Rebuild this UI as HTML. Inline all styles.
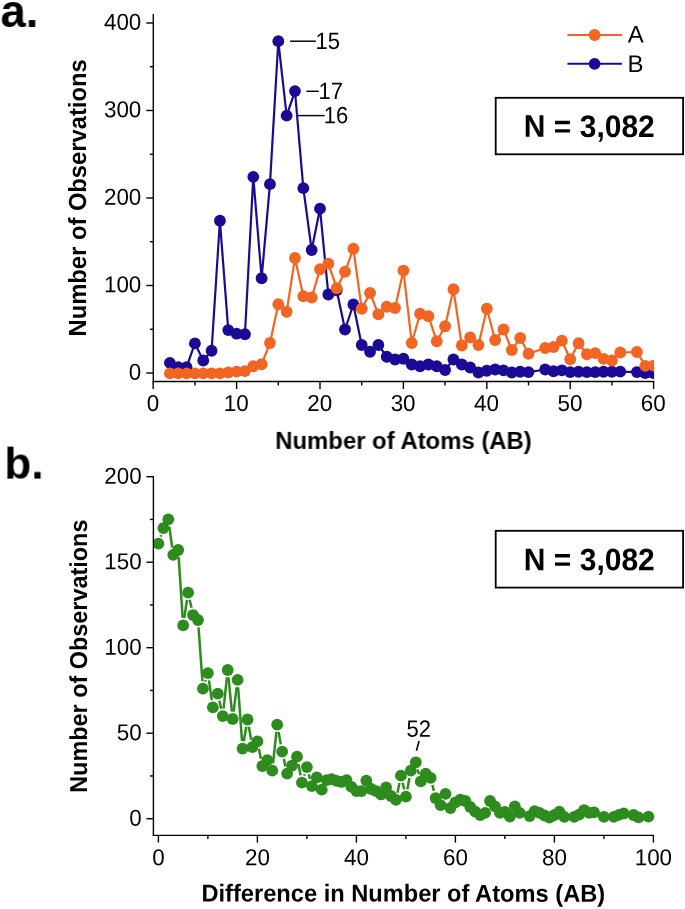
<!DOCTYPE html>
<html lang="en">
<head>
<meta charset="utf-8">
<title>Number of Observations vs Number of Atoms</title>
<style>
html,body{margin:0;padding:0;background:#fff;}
body{width:685px;height:909px;overflow:hidden;font-family:"Liberation Sans",sans-serif;}
svg{display:block;}
svg text{font-family:"Liberation Sans",sans-serif;fill:#000000;}
</style>
</head>
<body>
<svg width="685" height="909" viewBox="0 0 685 909">
<rect x="0" y="0" width="685" height="909" fill="#ffffff"/>
<g style="opacity:0.999">
<line x1="153.3" y1="14" x2="153.3" y2="382.2" stroke="#000000" stroke-width="1.4" stroke-linecap="butt"/>
<line x1="152.6" y1="381.5" x2="654.3" y2="381.5" stroke="#000000" stroke-width="1.4" stroke-linecap="butt"/>
<line x1="146.3" y1="373" x2="153.3" y2="373" stroke="#000000" stroke-width="1.4" stroke-linecap="butt"/>
<line x1="149.8" y1="329.25" x2="153.3" y2="329.25" stroke="#000000" stroke-width="1.4" stroke-linecap="butt"/>
<line x1="146.3" y1="285.5" x2="153.3" y2="285.5" stroke="#000000" stroke-width="1.4" stroke-linecap="butt"/>
<line x1="149.8" y1="241.75" x2="153.3" y2="241.75" stroke="#000000" stroke-width="1.4" stroke-linecap="butt"/>
<line x1="146.3" y1="198" x2="153.3" y2="198" stroke="#000000" stroke-width="1.4" stroke-linecap="butt"/>
<line x1="149.8" y1="154.25" x2="153.3" y2="154.25" stroke="#000000" stroke-width="1.4" stroke-linecap="butt"/>
<line x1="146.3" y1="110.5" x2="153.3" y2="110.5" stroke="#000000" stroke-width="1.4" stroke-linecap="butt"/>
<line x1="149.8" y1="66.75" x2="153.3" y2="66.75" stroke="#000000" stroke-width="1.4" stroke-linecap="butt"/>
<line x1="146.3" y1="23" x2="153.3" y2="23" stroke="#000000" stroke-width="1.4" stroke-linecap="butt"/>
<text transform="translate(141.3,379.8) rotate(0.03) scale(1,1.03)" font-size="22.4" text-anchor="end" font-weight="normal">0</text>
<text transform="translate(141.3,292.3) rotate(0.03) scale(1,1.03)" font-size="22.4" text-anchor="end" font-weight="normal">100</text>
<text transform="translate(141.3,204.8) rotate(0.03) scale(1,1.03)" font-size="22.4" text-anchor="end" font-weight="normal">200</text>
<text transform="translate(141.3,117.3) rotate(0.03) scale(1,1.03)" font-size="22.4" text-anchor="end" font-weight="normal">300</text>
<text transform="translate(141.3,29.8) rotate(0.03) scale(1,1.03)" font-size="22.4" text-anchor="end" font-weight="normal">400</text>
<line x1="153.2" y1="381.5" x2="153.2" y2="389" stroke="#000000" stroke-width="1.4" stroke-linecap="butt"/>
<line x1="194.9" y1="381.5" x2="194.9" y2="385.5" stroke="#000000" stroke-width="1.4" stroke-linecap="butt"/>
<line x1="236.6" y1="381.5" x2="236.6" y2="389" stroke="#000000" stroke-width="1.4" stroke-linecap="butt"/>
<line x1="278.3" y1="381.5" x2="278.3" y2="385.5" stroke="#000000" stroke-width="1.4" stroke-linecap="butt"/>
<line x1="320" y1="381.5" x2="320" y2="389" stroke="#000000" stroke-width="1.4" stroke-linecap="butt"/>
<line x1="361.7" y1="381.5" x2="361.7" y2="385.5" stroke="#000000" stroke-width="1.4" stroke-linecap="butt"/>
<line x1="403.4" y1="381.5" x2="403.4" y2="389" stroke="#000000" stroke-width="1.4" stroke-linecap="butt"/>
<line x1="445.1" y1="381.5" x2="445.1" y2="385.5" stroke="#000000" stroke-width="1.4" stroke-linecap="butt"/>
<line x1="486.8" y1="381.5" x2="486.8" y2="389" stroke="#000000" stroke-width="1.4" stroke-linecap="butt"/>
<line x1="528.5" y1="381.5" x2="528.5" y2="385.5" stroke="#000000" stroke-width="1.4" stroke-linecap="butt"/>
<line x1="570.2" y1="381.5" x2="570.2" y2="389" stroke="#000000" stroke-width="1.4" stroke-linecap="butt"/>
<line x1="611.9" y1="381.5" x2="611.9" y2="385.5" stroke="#000000" stroke-width="1.4" stroke-linecap="butt"/>
<line x1="653.6" y1="381.5" x2="653.6" y2="389" stroke="#000000" stroke-width="1.4" stroke-linecap="butt"/>
<text transform="translate(152.9,410.9) rotate(0.03) scale(1,1.03)" font-size="22.4" text-anchor="middle" font-weight="normal">0</text>
<text transform="translate(236.3,410.9) rotate(0.03) scale(1,1.03)" font-size="22.4" text-anchor="middle" font-weight="normal">10</text>
<text transform="translate(319.7,410.9) rotate(0.03) scale(1,1.03)" font-size="22.4" text-anchor="middle" font-weight="normal">20</text>
<text transform="translate(403.1,410.9) rotate(0.03) scale(1,1.03)" font-size="22.4" text-anchor="middle" font-weight="normal">30</text>
<text transform="translate(486.5,410.9) rotate(0.03) scale(1,1.03)" font-size="22.4" text-anchor="middle" font-weight="normal">40</text>
<text transform="translate(569.9,410.9) rotate(0.03) scale(1,1.03)" font-size="22.4" text-anchor="middle" font-weight="normal">50</text>
<text transform="translate(653.3,410.9) rotate(0.03) scale(1,1.03)" font-size="22.4" text-anchor="middle" font-weight="normal">60</text>
<clipPath id="ca"><rect x="153.3" y="0" width="500.8" height="381.5"/></clipPath>
<g clip-path="url(#ca)">
<polyline points="169.88,362.85 178.22,367.23 186.56,367.23 194.9,343.43 203.24,360.49 211.58,350.77 219.92,220.75 228.26,330.12 236.6,333.71 244.94,334.24 253.28,176.83 261.62,278.24 269.96,184.17 278.3,41.2 286.64,115.57 294.98,91.07 303.32,188.2 311.66,249.98 320,208.67 328.34,294.51 336.68,290.31 345.02,329.51 353.36,304.49 361.7,345 370.04,351.74 378.38,345 386.72,356.73 395.06,359.52 403.4,358.74 411.74,364.51 420.08,366.26 428.42,364.51 436.76,366.26 445.1,370.02 453.44,359.52 461.78,364.51 470.12,367.49 478.46,372.48 486.8,370.73 495.14,369.5 503.48,370.38 511.82,372.48 520.16,371.77 528.5,372.12 545.18,369.5 553.52,371.25 561.86,370.38 570.2,372.12 578.54,371.77 586.88,372.12 595.22,372.12 603.56,371.77 611.9,371.77 620.24,371.6 636.92,372.04 645.26,373 653.6,373" fill="none" stroke="#1A0A96" stroke-width="2.2" stroke-linejoin="round"/>
<circle cx="169.88" cy="362.85" r="5.9" fill="#1A0A96"/>
<circle cx="178.22" cy="367.23" r="5.9" fill="#1A0A96"/>
<circle cx="186.56" cy="367.23" r="5.9" fill="#1A0A96"/>
<circle cx="194.9" cy="343.43" r="5.9" fill="#1A0A96"/>
<circle cx="203.24" cy="360.49" r="5.9" fill="#1A0A96"/>
<circle cx="211.58" cy="350.77" r="5.9" fill="#1A0A96"/>
<circle cx="219.92" cy="220.75" r="5.9" fill="#1A0A96"/>
<circle cx="228.26" cy="330.12" r="5.9" fill="#1A0A96"/>
<circle cx="236.6" cy="333.71" r="5.9" fill="#1A0A96"/>
<circle cx="244.94" cy="334.24" r="5.9" fill="#1A0A96"/>
<circle cx="253.28" cy="176.83" r="5.9" fill="#1A0A96"/>
<circle cx="261.62" cy="278.24" r="5.9" fill="#1A0A96"/>
<circle cx="269.96" cy="184.17" r="5.9" fill="#1A0A96"/>
<circle cx="278.3" cy="41.2" r="5.9" fill="#1A0A96"/>
<circle cx="286.64" cy="115.57" r="5.9" fill="#1A0A96"/>
<circle cx="294.98" cy="91.07" r="5.9" fill="#1A0A96"/>
<circle cx="303.32" cy="188.2" r="5.9" fill="#1A0A96"/>
<circle cx="311.66" cy="249.98" r="5.9" fill="#1A0A96"/>
<circle cx="320" cy="208.67" r="5.9" fill="#1A0A96"/>
<circle cx="328.34" cy="294.51" r="5.9" fill="#1A0A96"/>
<circle cx="336.68" cy="290.31" r="5.9" fill="#1A0A96"/>
<circle cx="345.02" cy="329.51" r="5.9" fill="#1A0A96"/>
<circle cx="353.36" cy="304.49" r="5.9" fill="#1A0A96"/>
<circle cx="361.7" cy="345" r="5.9" fill="#1A0A96"/>
<circle cx="370.04" cy="351.74" r="5.9" fill="#1A0A96"/>
<circle cx="378.38" cy="345" r="5.9" fill="#1A0A96"/>
<circle cx="386.72" cy="356.73" r="5.9" fill="#1A0A96"/>
<circle cx="395.06" cy="359.52" r="5.9" fill="#1A0A96"/>
<circle cx="403.4" cy="358.74" r="5.9" fill="#1A0A96"/>
<circle cx="411.74" cy="364.51" r="5.9" fill="#1A0A96"/>
<circle cx="420.08" cy="366.26" r="5.9" fill="#1A0A96"/>
<circle cx="428.42" cy="364.51" r="5.9" fill="#1A0A96"/>
<circle cx="436.76" cy="366.26" r="5.9" fill="#1A0A96"/>
<circle cx="445.1" cy="370.02" r="5.9" fill="#1A0A96"/>
<circle cx="453.44" cy="359.52" r="5.9" fill="#1A0A96"/>
<circle cx="461.78" cy="364.51" r="5.9" fill="#1A0A96"/>
<circle cx="470.12" cy="367.49" r="5.9" fill="#1A0A96"/>
<circle cx="478.46" cy="372.48" r="5.9" fill="#1A0A96"/>
<circle cx="486.8" cy="370.73" r="5.9" fill="#1A0A96"/>
<circle cx="495.14" cy="369.5" r="5.9" fill="#1A0A96"/>
<circle cx="503.48" cy="370.38" r="5.9" fill="#1A0A96"/>
<circle cx="511.82" cy="372.48" r="5.9" fill="#1A0A96"/>
<circle cx="520.16" cy="371.77" r="5.9" fill="#1A0A96"/>
<circle cx="528.5" cy="372.12" r="5.9" fill="#1A0A96"/>
<circle cx="545.18" cy="369.5" r="5.9" fill="#1A0A96"/>
<circle cx="553.52" cy="371.25" r="5.9" fill="#1A0A96"/>
<circle cx="561.86" cy="370.38" r="5.9" fill="#1A0A96"/>
<circle cx="570.2" cy="372.12" r="5.9" fill="#1A0A96"/>
<circle cx="578.54" cy="371.77" r="5.9" fill="#1A0A96"/>
<circle cx="586.88" cy="372.12" r="5.9" fill="#1A0A96"/>
<circle cx="595.22" cy="372.12" r="5.9" fill="#1A0A96"/>
<circle cx="603.56" cy="371.77" r="5.9" fill="#1A0A96"/>
<circle cx="611.9" cy="371.77" r="5.9" fill="#1A0A96"/>
<circle cx="620.24" cy="371.6" r="5.9" fill="#1A0A96"/>
<circle cx="636.92" cy="372.04" r="5.9" fill="#1A0A96"/>
<circle cx="645.26" cy="373" r="5.9" fill="#1A0A96"/>
<circle cx="653.6" cy="373" r="5.9" fill="#1A0A96"/>
<polyline points="169.88,373.44 178.22,373.44 186.56,373.44 194.9,373.44 203.24,373.44 211.58,373.44 219.92,373.35 228.26,372.48 236.6,371.6 244.94,371.07 253.28,366.26 261.62,364.25 269.96,342.99 278.3,304.23 286.64,311.75 294.98,258.02 303.32,296.26 311.66,297.49 320,269.23 328.34,263.71 336.68,288.21 345.02,271.76 353.36,248.75 361.7,308.77 370.04,293.02 378.38,314.29 386.72,306.76 395.06,307.99 403.4,270.54 411.74,342.99 420.08,313.76 428.42,316.21 436.76,341.24 445.1,326.27 453.44,289.26 461.78,345.52 470.12,337.48 478.46,345 486.8,308.77 495.14,340.01 503.48,329.51 511.82,349.99 520.16,338 528.5,353.75 545.18,347.98 553.52,347.01 561.86,340.71 570.2,359.26 578.54,343.25 586.88,354.27 595.22,353.14 603.56,358.82 611.9,360.49 620.24,352.52 636.92,352 645.26,365.82 653.6,365.56" fill="none" stroke="#F26522" stroke-width="2.2" stroke-linejoin="round"/>
<circle cx="169.88" cy="373.44" r="5.9" fill="#F26522"/>
<circle cx="178.22" cy="373.44" r="5.9" fill="#F26522"/>
<circle cx="186.56" cy="373.44" r="5.9" fill="#F26522"/>
<circle cx="194.9" cy="373.44" r="5.9" fill="#F26522"/>
<circle cx="203.24" cy="373.44" r="5.9" fill="#F26522"/>
<circle cx="211.58" cy="373.44" r="5.9" fill="#F26522"/>
<circle cx="219.92" cy="373.35" r="5.9" fill="#F26522"/>
<circle cx="228.26" cy="372.48" r="5.9" fill="#F26522"/>
<circle cx="236.6" cy="371.6" r="5.9" fill="#F26522"/>
<circle cx="244.94" cy="371.07" r="5.9" fill="#F26522"/>
<circle cx="253.28" cy="366.26" r="5.9" fill="#F26522"/>
<circle cx="261.62" cy="364.25" r="5.9" fill="#F26522"/>
<circle cx="269.96" cy="342.99" r="5.9" fill="#F26522"/>
<circle cx="278.3" cy="304.23" r="5.9" fill="#F26522"/>
<circle cx="286.64" cy="311.75" r="5.9" fill="#F26522"/>
<circle cx="294.98" cy="258.02" r="5.9" fill="#F26522"/>
<circle cx="303.32" cy="296.26" r="5.9" fill="#F26522"/>
<circle cx="311.66" cy="297.49" r="5.9" fill="#F26522"/>
<circle cx="320" cy="269.23" r="5.9" fill="#F26522"/>
<circle cx="328.34" cy="263.71" r="5.9" fill="#F26522"/>
<circle cx="336.68" cy="288.21" r="5.9" fill="#F26522"/>
<circle cx="345.02" cy="271.76" r="5.9" fill="#F26522"/>
<circle cx="353.36" cy="248.75" r="5.9" fill="#F26522"/>
<circle cx="361.7" cy="308.77" r="5.9" fill="#F26522"/>
<circle cx="370.04" cy="293.02" r="5.9" fill="#F26522"/>
<circle cx="378.38" cy="314.29" r="5.9" fill="#F26522"/>
<circle cx="386.72" cy="306.76" r="5.9" fill="#F26522"/>
<circle cx="395.06" cy="307.99" r="5.9" fill="#F26522"/>
<circle cx="403.4" cy="270.54" r="5.9" fill="#F26522"/>
<circle cx="411.74" cy="342.99" r="5.9" fill="#F26522"/>
<circle cx="420.08" cy="313.76" r="5.9" fill="#F26522"/>
<circle cx="428.42" cy="316.21" r="5.9" fill="#F26522"/>
<circle cx="436.76" cy="341.24" r="5.9" fill="#F26522"/>
<circle cx="445.1" cy="326.27" r="5.9" fill="#F26522"/>
<circle cx="453.44" cy="289.26" r="5.9" fill="#F26522"/>
<circle cx="461.78" cy="345.52" r="5.9" fill="#F26522"/>
<circle cx="470.12" cy="337.48" r="5.9" fill="#F26522"/>
<circle cx="478.46" cy="345" r="5.9" fill="#F26522"/>
<circle cx="486.8" cy="308.77" r="5.9" fill="#F26522"/>
<circle cx="495.14" cy="340.01" r="5.9" fill="#F26522"/>
<circle cx="503.48" cy="329.51" r="5.9" fill="#F26522"/>
<circle cx="511.82" cy="349.99" r="5.9" fill="#F26522"/>
<circle cx="520.16" cy="338" r="5.9" fill="#F26522"/>
<circle cx="528.5" cy="353.75" r="5.9" fill="#F26522"/>
<circle cx="545.18" cy="347.98" r="5.9" fill="#F26522"/>
<circle cx="553.52" cy="347.01" r="5.9" fill="#F26522"/>
<circle cx="561.86" cy="340.71" r="5.9" fill="#F26522"/>
<circle cx="570.2" cy="359.26" r="5.9" fill="#F26522"/>
<circle cx="578.54" cy="343.25" r="5.9" fill="#F26522"/>
<circle cx="586.88" cy="354.27" r="5.9" fill="#F26522"/>
<circle cx="595.22" cy="353.14" r="5.9" fill="#F26522"/>
<circle cx="603.56" cy="358.82" r="5.9" fill="#F26522"/>
<circle cx="611.9" cy="360.49" r="5.9" fill="#F26522"/>
<circle cx="620.24" cy="352.52" r="5.9" fill="#F26522"/>
<circle cx="636.92" cy="352" r="5.9" fill="#F26522"/>
<circle cx="645.26" cy="365.82" r="5.9" fill="#F26522"/>
<circle cx="653.6" cy="365.56" r="5.9" fill="#F26522"/>
</g>
<line x1="290.1" y1="41.2" x2="315.9" y2="41.2" stroke="#000000" stroke-width="1.45" stroke-linecap="butt"/>
<text transform="translate(315.6,49) rotate(0.03) scale(1,1.07)" font-size="22" text-anchor="start" font-weight="normal">15</text>
<line x1="306.4" y1="91.3" x2="318.8" y2="91.3" stroke="#000000" stroke-width="1.45" stroke-linecap="butt"/>
<text transform="translate(318.4,99.1) rotate(0.03) scale(1,1.07)" font-size="22" text-anchor="start" font-weight="normal">17</text>
<line x1="297.7" y1="115.6" x2="324.6" y2="115.6" stroke="#000000" stroke-width="1.45" stroke-linecap="butt"/>
<text transform="translate(323.8,123.2) rotate(0.03) scale(1,1.07)" font-size="22" text-anchor="start" font-weight="normal">16</text>
<line x1="567.4" y1="35" x2="622" y2="35" stroke="#F26522" stroke-width="2" stroke-linecap="butt"/>
<circle cx="594.6" cy="35" r="5.9" fill="#F26522"/>
<text transform="translate(627.8,42.6) rotate(0.03)" font-size="24" text-anchor="start" font-weight="normal">A</text>
<line x1="567.4" y1="63.8" x2="622" y2="63.8" stroke="#1A0A96" stroke-width="2" stroke-linecap="butt"/>
<circle cx="594.6" cy="63.8" r="5.9" fill="#1A0A96"/>
<text transform="translate(627.6,71.9) rotate(0.03)" font-size="24" text-anchor="start" font-weight="normal">B</text>
<rect x="495.7" y="97.8" width="187.4" height="56.5" fill="#fff" stroke="#000000" stroke-width="1.8"/>
<text transform="translate(589.3,136.9) rotate(0.03) scale(1,1.038)" font-size="30" text-anchor="middle" font-weight="bold">N = 3,082</text>
<text transform="translate(403.5,448.6) rotate(0.03) scale(1,1.03)" font-size="23.9" text-anchor="middle" font-weight="bold">Number of Atoms (AB)</text>
<text transform="translate(86,197.9) rotate(-89.97) scale(1,1.045)" font-size="23.75" text-anchor="middle" font-weight="bold">Number of Observations</text>
<text transform="translate(0.5,27) rotate(0.03)" font-size="45.5" text-anchor="start" font-weight="bold">a.</text>
<line x1="146.4" y1="818.7" x2="153.4" y2="818.7" stroke="#000000" stroke-width="1.4" stroke-linecap="butt"/>
<line x1="149.9" y1="775.95" x2="153.4" y2="775.95" stroke="#000000" stroke-width="1.4" stroke-linecap="butt"/>
<line x1="146.4" y1="733.2" x2="153.4" y2="733.2" stroke="#000000" stroke-width="1.4" stroke-linecap="butt"/>
<line x1="149.9" y1="690.45" x2="153.4" y2="690.45" stroke="#000000" stroke-width="1.4" stroke-linecap="butt"/>
<line x1="146.4" y1="647.7" x2="153.4" y2="647.7" stroke="#000000" stroke-width="1.4" stroke-linecap="butt"/>
<line x1="149.9" y1="604.95" x2="153.4" y2="604.95" stroke="#000000" stroke-width="1.4" stroke-linecap="butt"/>
<line x1="146.4" y1="562.2" x2="153.4" y2="562.2" stroke="#000000" stroke-width="1.4" stroke-linecap="butt"/>
<line x1="149.9" y1="519.45" x2="153.4" y2="519.45" stroke="#000000" stroke-width="1.4" stroke-linecap="butt"/>
<line x1="146.4" y1="476.7" x2="153.4" y2="476.7" stroke="#000000" stroke-width="1.4" stroke-linecap="butt"/>
<text transform="translate(141.7,825.7) rotate(0.03) scale(1,1.03)" font-size="22.4" text-anchor="end" font-weight="normal">0</text>
<text transform="translate(141.7,740.2) rotate(0.03) scale(1,1.03)" font-size="22.4" text-anchor="end" font-weight="normal">50</text>
<text transform="translate(141.7,654.7) rotate(0.03) scale(1,1.03)" font-size="22.4" text-anchor="end" font-weight="normal">100</text>
<text transform="translate(141.7,569.2) rotate(0.03) scale(1,1.03)" font-size="22.4" text-anchor="end" font-weight="normal">150</text>
<text transform="translate(141.7,483.7) rotate(0.03) scale(1,1.03)" font-size="22.4" text-anchor="end" font-weight="normal">200</text>
<line x1="158.4" y1="835.4" x2="158.4" y2="842.6" stroke="#000000" stroke-width="1.4" stroke-linecap="butt"/>
<line x1="207.9" y1="835.4" x2="207.9" y2="838.9" stroke="#000000" stroke-width="1.4" stroke-linecap="butt"/>
<line x1="257.4" y1="835.4" x2="257.4" y2="842.6" stroke="#000000" stroke-width="1.4" stroke-linecap="butt"/>
<line x1="306.9" y1="835.4" x2="306.9" y2="838.9" stroke="#000000" stroke-width="1.4" stroke-linecap="butt"/>
<line x1="356.4" y1="835.4" x2="356.4" y2="842.6" stroke="#000000" stroke-width="1.4" stroke-linecap="butt"/>
<line x1="405.9" y1="835.4" x2="405.9" y2="838.9" stroke="#000000" stroke-width="1.4" stroke-linecap="butt"/>
<line x1="455.4" y1="835.4" x2="455.4" y2="842.6" stroke="#000000" stroke-width="1.4" stroke-linecap="butt"/>
<line x1="504.9" y1="835.4" x2="504.9" y2="838.9" stroke="#000000" stroke-width="1.4" stroke-linecap="butt"/>
<line x1="554.4" y1="835.4" x2="554.4" y2="842.6" stroke="#000000" stroke-width="1.4" stroke-linecap="butt"/>
<line x1="603.9" y1="835.4" x2="603.9" y2="838.9" stroke="#000000" stroke-width="1.4" stroke-linecap="butt"/>
<line x1="653.4" y1="835.4" x2="653.4" y2="842.6" stroke="#000000" stroke-width="1.4" stroke-linecap="butt"/>
<text transform="translate(158.4,865.2) rotate(0.03) scale(1,1.03)" font-size="22.4" text-anchor="middle" font-weight="normal">0</text>
<text transform="translate(257.4,865.2) rotate(0.03) scale(1,1.03)" font-size="22.4" text-anchor="middle" font-weight="normal">20</text>
<text transform="translate(356.4,865.2) rotate(0.03) scale(1,1.03)" font-size="22.4" text-anchor="middle" font-weight="normal">40</text>
<text transform="translate(455.4,865.2) rotate(0.03) scale(1,1.03)" font-size="22.4" text-anchor="middle" font-weight="normal">60</text>
<text transform="translate(554.4,865.2) rotate(0.03) scale(1,1.03)" font-size="22.4" text-anchor="middle" font-weight="normal">80</text>
<text transform="translate(653.4,865.2) rotate(0.03) scale(1,1.03)" font-size="22.4" text-anchor="middle" font-weight="normal">100</text>
<clipPath id="cb"><rect x="153.4" y="440" width="540" height="395.4"/></clipPath>
<g clip-path="url(#cb)">
<line x1="160.64" y1="536.6" x2="161.11" y2="535.13" stroke="#2E8B1E" stroke-width="2.5" stroke-linecap="butt"/>
<line x1="169.32" y1="526.67" x2="172.23" y2="547.62" stroke="#2E8B1E" stroke-width="2.5" stroke-linecap="butt"/>
<line x1="178.69" y1="557.37" x2="182.66" y2="617.93" stroke="#2E8B1E" stroke-width="2.5" stroke-linecap="butt"/>
<line x1="184.26" y1="618" x2="186.99" y2="599.93" stroke="#2E8B1E" stroke-width="2.5" stroke-linecap="butt"/>
<line x1="189.69" y1="599.84" x2="191.46" y2="607.82" stroke="#2E8B1E" stroke-width="2.5" stroke-linecap="butt"/>
<line x1="198.53" y1="627.39" x2="202.42" y2="681.28" stroke="#2E8B1E" stroke-width="2.5" stroke-linecap="butt"/>
<line x1="205.19" y1="681.61" x2="205.66" y2="680.13" stroke="#2E8B1E" stroke-width="2.5" stroke-linecap="butt"/>
<line x1="208.96" y1="680.4" x2="211.79" y2="700" stroke="#2E8B1E" stroke-width="2.5" stroke-linecap="butt"/>
<line x1="219.39" y1="700.85" x2="221.16" y2="708.83" stroke="#2E8B1E" stroke-width="2.5" stroke-linecap="butt"/>
<line x1="223.54" y1="708.69" x2="226.91" y2="677.36" stroke="#2E8B1E" stroke-width="2.5" stroke-linecap="butt"/>
<line x1="228.44" y1="677.36" x2="231.91" y2="711.6" stroke="#2E8B1E" stroke-width="2.5" stroke-linecap="butt"/>
<line x1="233.58" y1="711.62" x2="236.67" y2="687.27" stroke="#2E8B1E" stroke-width="2.5" stroke-linecap="butt"/>
<line x1="238.13" y1="687.31" x2="242.02" y2="741.2" stroke="#2E8B1E" stroke-width="2.5" stroke-linecap="butt"/>
<line x1="243.79" y1="741.28" x2="246.26" y2="726.77" stroke="#2E8B1E" stroke-width="2.5" stroke-linecap="butt"/>
<line x1="248.81" y1="726.76" x2="251.14" y2="739.75" stroke="#2E8B1E" stroke-width="2.5" stroke-linecap="butt"/>
<line x1="258.86" y1="748.64" x2="260.89" y2="758.79" stroke="#2E8B1E" stroke-width="2.5" stroke-linecap="butt"/>
<line x1="273.04" y1="763.31" x2="276.41" y2="731.97" stroke="#2E8B1E" stroke-width="2.5" stroke-linecap="butt"/>
<line x1="278.53" y1="731.89" x2="280.82" y2="744.38" stroke="#2E8B1E" stroke-width="2.5" stroke-linecap="butt"/>
<line x1="283.78" y1="758.88" x2="285.47" y2="766.36" stroke="#2E8B1E" stroke-width="2.5" stroke-linecap="butt"/>
<line x1="298.38" y1="763.9" x2="300.57" y2="775.38" stroke="#2E8B1E" stroke-width="2.5" stroke-linecap="butt"/>
<line x1="304.19" y1="775.6" x2="304.66" y2="774.12" stroke="#2E8B1E" stroke-width="2.5" stroke-linecap="butt"/>
<line x1="308.77" y1="774.23" x2="309.98" y2="778.91" stroke="#2E8B1E" stroke-width="2.5" stroke-linecap="butt"/>
<line x1="397.48" y1="792.69" x2="399.47" y2="782.88" stroke="#2E8B1E" stroke-width="2.5" stroke-linecap="butt"/>
<line x1="402.64" y1="782.83" x2="404.21" y2="789.48" stroke="#2E8B1E" stroke-width="2.5" stroke-linecap="butt"/>
<line x1="407.28" y1="789.42" x2="409.47" y2="777.93" stroke="#2E8B1E" stroke-width="2.5" stroke-linecap="butt"/>
<line x1="417.65" y1="769.44" x2="418.9" y2="774.28" stroke="#2E8B1E" stroke-width="2.5" stroke-linecap="butt"/>
<line x1="432.41" y1="785.04" x2="433.84" y2="790.87" stroke="#2E8B1E" stroke-width="2.5" stroke-linecap="butt"/>
<circle cx="158.4" cy="543.65" r="5.9" fill="#2E8B1E"/>
<circle cx="163.35" cy="528.07" r="5.9" fill="#2E8B1E"/>
<circle cx="168.3" cy="519.34" r="5.9" fill="#2E8B1E"/>
<circle cx="173.25" cy="554.95" r="5.9" fill="#2E8B1E"/>
<circle cx="178.2" cy="549.99" r="5.9" fill="#2E8B1E"/>
<circle cx="183.15" cy="625.32" r="5.9" fill="#2E8B1E"/>
<circle cx="188.1" cy="592.62" r="5.9" fill="#2E8B1E"/>
<circle cx="193.05" cy="615.04" r="5.9" fill="#2E8B1E"/>
<circle cx="198" cy="620.01" r="5.9" fill="#2E8B1E"/>
<circle cx="202.95" cy="688.66" r="5.9" fill="#2E8B1E"/>
<circle cx="207.9" cy="673.08" r="5.9" fill="#2E8B1E"/>
<circle cx="212.85" cy="707.32" r="5.9" fill="#2E8B1E"/>
<circle cx="217.8" cy="693.62" r="5.9" fill="#2E8B1E"/>
<circle cx="222.75" cy="716.05" r="5.9" fill="#2E8B1E"/>
<circle cx="227.7" cy="670" r="5.9" fill="#2E8B1E"/>
<circle cx="232.65" cy="718.96" r="5.9" fill="#2E8B1E"/>
<circle cx="237.6" cy="679.93" r="5.9" fill="#2E8B1E"/>
<circle cx="242.55" cy="748.58" r="5.9" fill="#2E8B1E"/>
<circle cx="247.5" cy="719.48" r="5.9" fill="#2E8B1E"/>
<circle cx="252.45" cy="747.04" r="5.9" fill="#2E8B1E"/>
<circle cx="257.4" cy="741.39" r="5.9" fill="#2E8B1E"/>
<circle cx="262.35" cy="766.04" r="5.9" fill="#2E8B1E"/>
<circle cx="267.3" cy="760.05" r="5.9" fill="#2E8B1E"/>
<circle cx="272.25" cy="770.66" r="5.9" fill="#2E8B1E"/>
<circle cx="277.2" cy="724.61" r="5.9" fill="#2E8B1E"/>
<circle cx="282.15" cy="751.66" r="5.9" fill="#2E8B1E"/>
<circle cx="287.1" cy="773.57" r="5.9" fill="#2E8B1E"/>
<circle cx="292.05" cy="765.53" r="5.9" fill="#2E8B1E"/>
<circle cx="297" cy="756.63" r="5.9" fill="#2E8B1E"/>
<circle cx="301.95" cy="782.65" r="5.9" fill="#2E8B1E"/>
<circle cx="306.9" cy="767.07" r="5.9" fill="#2E8B1E"/>
<circle cx="311.85" cy="786.07" r="5.9" fill="#2E8B1E"/>
<circle cx="316.8" cy="777.34" r="5.9" fill="#2E8B1E"/>
<circle cx="321.75" cy="789.67" r="5.9" fill="#2E8B1E"/>
<circle cx="326.7" cy="780.08" r="5.9" fill="#2E8B1E"/>
<circle cx="331.65" cy="779.05" r="5.9" fill="#2E8B1E"/>
<circle cx="336.6" cy="780.94" r="5.9" fill="#2E8B1E"/>
<circle cx="341.55" cy="781.96" r="5.9" fill="#2E8B1E"/>
<circle cx="346.5" cy="780.08" r="5.9" fill="#2E8B1E"/>
<circle cx="351.45" cy="786.93" r="5.9" fill="#2E8B1E"/>
<circle cx="356.4" cy="791.04" r="5.9" fill="#2E8B1E"/>
<circle cx="361.35" cy="791.04" r="5.9" fill="#2E8B1E"/>
<circle cx="366.3" cy="780.59" r="5.9" fill="#2E8B1E"/>
<circle cx="371.25" cy="788.98" r="5.9" fill="#2E8B1E"/>
<circle cx="376.2" cy="791.04" r="5.9" fill="#2E8B1E"/>
<circle cx="381.15" cy="794.46" r="5.9" fill="#2E8B1E"/>
<circle cx="386.1" cy="787.44" r="5.9" fill="#2E8B1E"/>
<circle cx="391.05" cy="796" r="5.9" fill="#2E8B1E"/>
<circle cx="396" cy="799.94" r="5.9" fill="#2E8B1E"/>
<circle cx="400.95" cy="775.63" r="5.9" fill="#2E8B1E"/>
<circle cx="405.9" cy="796.69" r="5.9" fill="#2E8B1E"/>
<circle cx="410.85" cy="770.66" r="5.9" fill="#2E8B1E"/>
<circle cx="415.8" cy="762.28" r="5.9" fill="#2E8B1E"/>
<circle cx="420.75" cy="781.45" r="5.9" fill="#2E8B1E"/>
<circle cx="425.7" cy="773.75" r="5.9" fill="#2E8B1E"/>
<circle cx="430.65" cy="777.85" r="5.9" fill="#2E8B1E"/>
<circle cx="435.6" cy="798.06" r="5.9" fill="#2E8B1E"/>
<circle cx="440.55" cy="805.08" r="5.9" fill="#2E8B1E"/>
<circle cx="445.5" cy="793.95" r="5.9" fill="#2E8B1E"/>
<circle cx="450.45" cy="807.99" r="5.9" fill="#2E8B1E"/>
<circle cx="455.4" cy="802.34" r="5.9" fill="#2E8B1E"/>
<circle cx="460.35" cy="799.6" r="5.9" fill="#2E8B1E"/>
<circle cx="465.3" cy="800.97" r="5.9" fill="#2E8B1E"/>
<circle cx="470.25" cy="806.96" r="5.9" fill="#2E8B1E"/>
<circle cx="475.2" cy="811.58" r="5.9" fill="#2E8B1E"/>
<circle cx="480.15" cy="815" r="5.9" fill="#2E8B1E"/>
<circle cx="485.1" cy="812.95" r="5.9" fill="#2E8B1E"/>
<circle cx="490.05" cy="800.97" r="5.9" fill="#2E8B1E"/>
<circle cx="495" cy="806.44" r="5.9" fill="#2E8B1E"/>
<circle cx="499.95" cy="812.95" r="5.9" fill="#2E8B1E"/>
<circle cx="504.9" cy="811.92" r="5.9" fill="#2E8B1E"/>
<circle cx="509.85" cy="816.55" r="5.9" fill="#2E8B1E"/>
<circle cx="514.8" cy="806.44" r="5.9" fill="#2E8B1E"/>
<circle cx="519.75" cy="812.95" r="5.9" fill="#2E8B1E"/>
<circle cx="529.65" cy="816.03" r="5.9" fill="#2E8B1E"/>
<circle cx="534.6" cy="811.07" r="5.9" fill="#2E8B1E"/>
<circle cx="539.55" cy="812.95" r="5.9" fill="#2E8B1E"/>
<circle cx="544.5" cy="815.52" r="5.9" fill="#2E8B1E"/>
<circle cx="549.45" cy="817.57" r="5.9" fill="#2E8B1E"/>
<circle cx="554.4" cy="815" r="5.9" fill="#2E8B1E"/>
<circle cx="559.35" cy="811.75" r="5.9" fill="#2E8B1E"/>
<circle cx="564.3" cy="816.89" r="5.9" fill="#2E8B1E"/>
<circle cx="574.2" cy="816.89" r="5.9" fill="#2E8B1E"/>
<circle cx="579.15" cy="814.66" r="5.9" fill="#2E8B1E"/>
<circle cx="584.1" cy="810.04" r="5.9" fill="#2E8B1E"/>
<circle cx="589.05" cy="812.78" r="5.9" fill="#2E8B1E"/>
<circle cx="594" cy="812.44" r="5.9" fill="#2E8B1E"/>
<circle cx="603.9" cy="816.89" r="5.9" fill="#2E8B1E"/>
<circle cx="613.8" cy="816.89" r="5.9" fill="#2E8B1E"/>
<circle cx="618.75" cy="814.83" r="5.9" fill="#2E8B1E"/>
<circle cx="623.7" cy="813.46" r="5.9" fill="#2E8B1E"/>
<circle cx="633.6" cy="815" r="5.9" fill="#2E8B1E"/>
<circle cx="638.55" cy="817.4" r="5.9" fill="#2E8B1E"/>
<circle cx="648.45" cy="816.55" r="5.9" fill="#2E8B1E"/>
</g>
<line x1="153.4" y1="476" x2="153.4" y2="836.1" stroke="#000000" stroke-width="1.4" stroke-linecap="butt"/>
<line x1="152.7" y1="835.4" x2="654.1" y2="835.4" stroke="#000000" stroke-width="1.4" stroke-linecap="butt"/>
<line x1="419.1" y1="740.9" x2="416.4" y2="750.8" stroke="#000000" stroke-width="1.6" stroke-linecap="butt"/>
<text transform="translate(418.8,736.8) rotate(0.03) scale(1,1.07)" font-size="22" text-anchor="middle" font-weight="normal">52</text>
<rect x="495.7" y="530.8" width="187.4" height="56.8" fill="#fff" stroke="#000000" stroke-width="1.8"/>
<text transform="translate(589.3,570.2) rotate(0.03) scale(1,1.038)" font-size="30" text-anchor="middle" font-weight="bold">N = 3,082</text>
<text transform="translate(403.3,901.6) rotate(0.03) scale(1,1.03)" font-size="23.65" text-anchor="middle" font-weight="bold">Difference in Number of Atoms (AB)</text>
<text transform="translate(87,656.2) rotate(-89.97) scale(1,1.045)" font-size="23.43" text-anchor="middle" font-weight="bold">Number of Observations</text>
<text transform="translate(4.4,478.6) rotate(0.03)" font-size="44" text-anchor="start" font-weight="bold">b.</text>
</g>
</svg>
</body>
</html>
